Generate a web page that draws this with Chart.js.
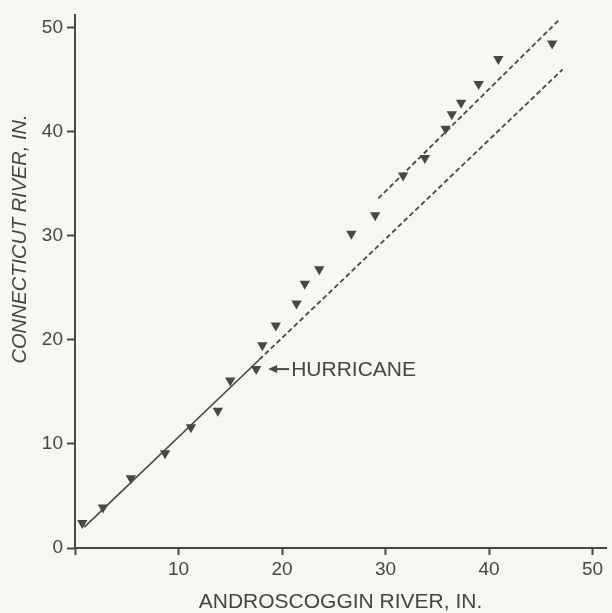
<!DOCTYPE html>
<html><head><meta charset="utf-8">
<script src="https://cdn.jsdelivr.net/npm/chart.js@4.4.0/dist/chart.umd.min.js"></script>
<style>html,body{margin:0;padding:0;background:#f7f6f1;}canvas{display:block;}</style>
</head><body>
<canvas id="c" width="612" height="613"></canvas>
<script>
// Data
const androscoggin = [0.7, 2.7, 5.4, 8.7, 11.2, 13.8, 15.0, 17.5, 18.1, 19.4, 21.4, 22.2, 23.6, 26.7, 29.0, 31.7, 33.8, 35.8, 36.4, 37.3, 39.0, 40.9, 46.1];
const connecticut  = [2.4, 3.9, 6.7, 9.1, 11.6, 13.2, 16.1, 17.2, 19.5, 21.4, 23.5, 25.4, 26.8, 30.2, 32.0, 35.8, 37.5, 40.3, 41.7, 42.8, 44.6, 47.0, 48.5];
const solidLineX = [0.9, 17.8];
const solidLineY = [2.0, 18.1];
const lowerDashX = [17.8, 47.1];
const lowerDashY = [18.1, 46.0];
const upperDashX = [29.3, 46.8];
const upperDashY = [33.6, 50.8];
const xTickValues = [0, 10, 20, 30, 40, 50];
const yTickValues = [0, 10, 20, 30, 40, 50];
const hurricaneIndex = 7;
const xTitle = 'ANDROSCOGGIN RIVER, IN.';
const yTitle = 'CONNECTICUT RIVER, IN.';
const noteText = 'HURRICANE';

const INK = '#474747';
const TEXT = '#454545';
const toPts = (xs, ys) => xs.map((x, i) => ({x, y: ys[i]}));

const annotate = {
  id: 'annotate',
  afterDatasetsDraw(chart) {
    const {ctx, scales: {x, y}} = chart;
    const px = x.getPixelForValue(androscoggin[hurricaneIndex]);
    const py = y.getPixelForValue(connecticut[hurricaneIndex]);
    ctx.save();
    ctx.strokeStyle = INK; ctx.fillStyle = INK; ctx.lineWidth = 2;
    const tip = px + 12, end = px + 33;
    ctx.beginPath(); ctx.moveTo(tip + 6, py); ctx.lineTo(end, py); ctx.stroke();
    ctx.beginPath(); ctx.moveTo(tip, py); ctx.lineTo(tip + 9, py - 4); ctx.lineTo(tip + 9, py + 4); ctx.closePath(); ctx.fill();
    ctx.fillStyle = TEXT;
    ctx.font = '21px "Liberation Sans", Arial, sans-serif';
    ctx.textAlign = 'left'; ctx.textBaseline = 'middle';
    ctx.fillText(noteText, px + 35, py + 1);
    // y-axis title
    ctx.translate(20, 239);
    ctx.rotate(-Math.PI / 2);
    ctx.font = 'italic 20px "Liberation Sans", Arial, sans-serif';
    ctx.textAlign = 'center';
    ctx.fillText(yTitle, 0, 0);
    ctx.restore();
  }
};

new Chart(document.getElementById('c'), {
  type: 'scatter',
  data: {
    datasets: [
      { label: 'solid', data: toPts(solidLineX, solidLineY), showLine: true, borderColor: INK, borderWidth: 1.6, pointRadius: 0 },
      { label: 'lower', data: toPts(lowerDashX, lowerDashY), showLine: true, borderColor: INK, borderWidth: 1.8, borderDash: [5, 3], pointRadius: 0 },
      { label: 'upper', data: toPts(upperDashX, upperDashY), showLine: true, borderColor: INK, borderWidth: 1.8, borderDash: [5, 3], pointRadius: 0 },
      { label: 'obs', data: toPts(androscoggin, connecticut), showLine: false, pointStyle: 'triangle', rotation: 180, pointRadius: 6, backgroundColor: INK, borderColor: INK, borderWidth: 0 }
    ]
  },
  options: {
    responsive: false, animation: false,
    layout: { padding: { top: 12, right: 0, left: 0, bottom: 0 } },
    plugins: { legend: { display: false }, tooltip: { enabled: false } },
    scales: {
      x: {
        type: 'linear', min: 0, max: 51.3,
        afterBuildTicks: s => { s.ticks = xTickValues.map(v => ({value: v})); },
        afterFit: s => { s.height = 65; },
        border: { display: true, color: INK, width: 2 },
        grid: { drawOnChartArea: false, drawTicks: true, tickLength: 7, tickColor: INK, tickWidth: 2 },
        ticks: { color: TEXT, padding: 3, maxRotation: 0, autoSkip: false,
                 font: { size: 19, family: '"Liberation Sans", Arial, sans-serif' },
                 callback: v => v === 0 ? '' : String(v) },
        title: { display: true, text: xTitle, color: TEXT, padding: { top: 0, bottom: 0 },
                 font: { size: 21, family: '"Liberation Sans", Arial, sans-serif', lineHeight: 1 } }
      },
      y: {
        type: 'linear', min: 0, max: 51.2,
        afterBuildTicks: s => { s.ticks = yTickValues.map(v => ({value: v})); },
        afterFit: s => { s.width = 75; },
        border: { display: true, color: INK, width: 2 },
        grid: { drawOnChartArea: false, drawTicks: true, tickLength: 8, tickColor: INK, tickWidth: 2 },
        ticks: { color: TEXT, padding: 4, autoSkip: false,
                 font: { size: 19, family: '"Liberation Sans", Arial, sans-serif' } }
      }
    }
  },
  plugins: [annotate]
});
</script>
</body></html>
